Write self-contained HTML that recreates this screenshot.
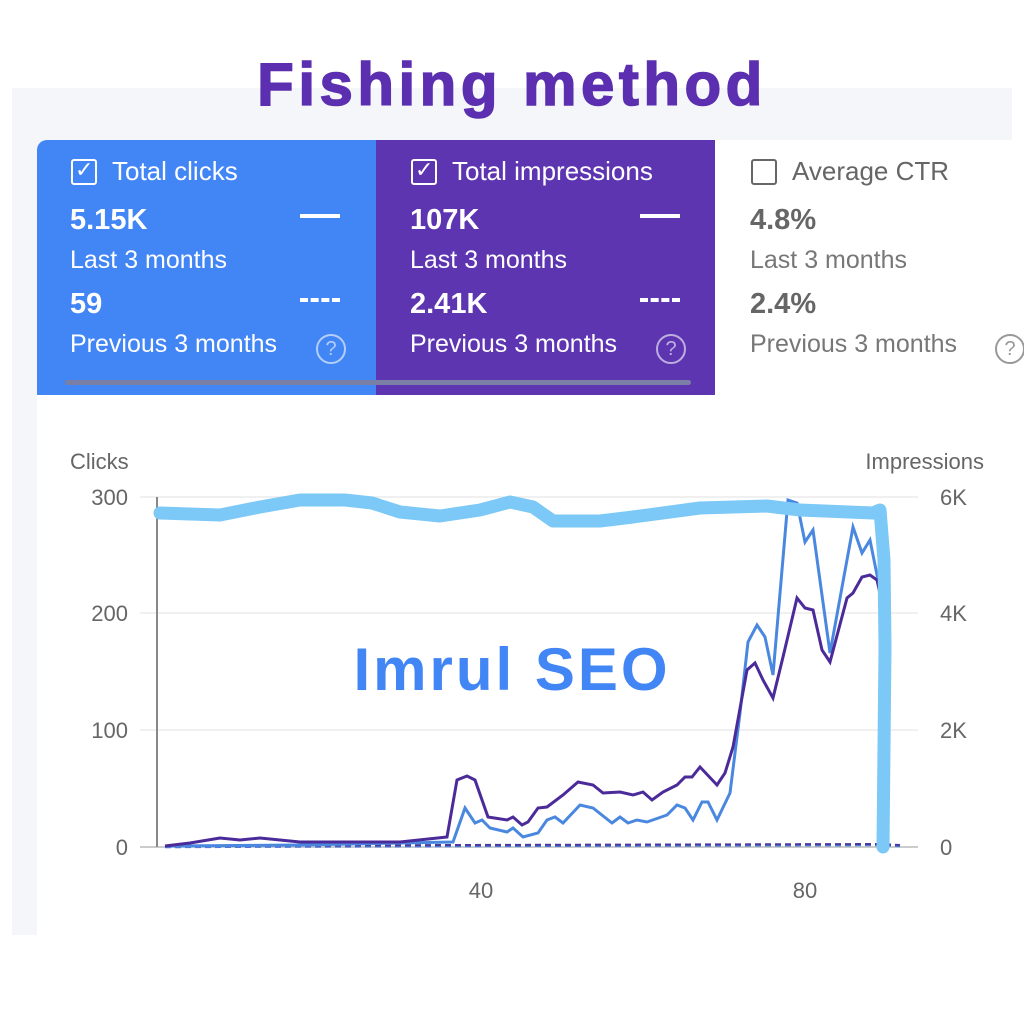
<!DOCTYPE html>
<html><head><meta charset="utf-8"><style>
body{margin:0;width:1024px;height:1024px;background:#fff;position:relative;overflow:hidden;font-family:"Liberation Sans",sans-serif}
.abs{position:absolute}
.panel{left:12px;top:88px;width:1000px;height:847px;background:#f4f6fa}
.chart{left:37px;top:395px;width:975px;height:540px;background:#fff}
.v{font-size:29px;font-weight:bold;position:absolute;white-space:nowrap}
.s{font-size:25px;position:absolute;white-space:nowrap}
.cb{position:absolute;width:22px;height:22px;border:2.5px solid #fff;border-radius:3px}
.q{position:absolute;width:26px;height:26px;border:2.5px solid rgba(255,255,255,.6);border-radius:50%;font-size:20px;text-align:center;line-height:27px;color:rgba(255,255,255,.6)}
</style></head><body>
<div class="abs panel"></div>
<div class="abs" style="left:37px;top:140px;width:339px;height:255px;background:#4285f4;border-radius:10px 0 0 0"></div>
<div class="abs" style="left:376px;top:140px;width:339px;height:255px;background:#5e35b1"></div>
<div class="abs" style="left:715px;top:140px;width:297px;height:255px;background:#fff"></div>
<div class="abs" style="left:65px;top:380px;width:626px;height:5px;background:#7a7fa6;border-radius:3px"></div>
<div class="abs chart"></div>

<div class="abs" style="left:0;top:50px;width:1024px;text-align:center;font-size:60px;font-weight:bold;color:#5b2fb0;letter-spacing:4.5px;-webkit-text-stroke:1.5px #5b2fb0">Fishing method</div>

<!-- card 1 -->
<div class="cb" style="left:71px;top:159px"></div><div class="abs" style="left:75px;top:157px;color:#fff;font-size:22px">✓</div>
<div class="abs" style="left:112px;top:156px;color:#fff;font-size:26px">Total clicks</div>
<div class="v" style="left:70px;top:204px;color:#fff">5.15K</div>
<div class="abs" style="left:300px;top:214px;width:40px;height:4px;background:#fff"></div>
<div class="s" style="left:70px;top:246px;color:#fff">Last 3 months</div>
<div class="v" style="left:70px;top:288px;color:#fff">59</div>
<div class="abs" style="left:300px;top:298px;width:40px;height:0;border-top:4px dashed #fff"></div>
<div class="s" style="left:70px;top:330px;color:#fff">Previous 3 months</div>
<div class="q" style="left:316px;top:334px">?</div>
<!-- card 2 -->
<div class="cb" style="left:411px;top:159px"></div><div class="abs" style="left:415px;top:157px;color:#fff;font-size:22px">✓</div>
<div class="abs" style="left:452px;top:156px;color:#fff;font-size:26px">Total impressions</div>
<div class="v" style="left:410px;top:204px;color:#fff">107K</div>
<div class="abs" style="left:640px;top:214px;width:40px;height:4px;background:#fff"></div>
<div class="s" style="left:410px;top:246px;color:#fff">Last 3 months</div>
<div class="v" style="left:410px;top:288px;color:#fff">2.41K</div>
<div class="abs" style="left:640px;top:298px;width:40px;height:0;border-top:4px dashed #fff"></div>
<div class="s" style="left:410px;top:330px;color:#fff">Previous 3 months</div>
<div class="q" style="left:656px;top:334px">?</div>
<!-- card 3 -->
<div class="cb" style="left:751px;top:159px;border-color:#666"></div>
<div class="abs" style="left:792px;top:156px;color:#666;font-size:26px">Average CTR</div>
<div class="v" style="left:750px;top:204px;color:#666">4.8%</div>
<div class="s" style="left:750px;top:246px;color:#777">Last 3 months</div>
<div class="v" style="left:750px;top:288px;color:#666">2.4%</div>
<div class="s" style="left:750px;top:330px;color:#777">Previous 3 months</div>
<div class="q" style="left:995px;top:334px;border-color:#999;color:#999">?</div>

<svg class="abs" style="left:0;top:0" width="1024" height="1024">
<g font-family="Liberation Sans" font-size="22" fill="#666">
<text x="70" y="469">Clicks</text>
<text x="984" y="469" text-anchor="end">Impressions</text>
<text x="128" y="505" text-anchor="end">300</text>
<text x="128" y="621" text-anchor="end">200</text>
<text x="128" y="738" text-anchor="end">100</text>
<text x="128" y="855" text-anchor="end">0</text>
<text x="940" y="505">6K</text>
<text x="940" y="621">4K</text>
<text x="940" y="738">2K</text>
<text x="940" y="855">0</text>
<text x="481" y="898" text-anchor="middle">40</text>
<text x="805" y="898" text-anchor="middle">80</text>
</g>
<g stroke="#ececec" stroke-width="1.5">
<line x1="140" y1="497" x2="918" y2="497"/><line x1="140" y1="613" x2="918" y2="613"/><line x1="140" y1="730" x2="918" y2="730"/>
</g>
<line x1="140" y1="847" x2="918" y2="847" stroke="#bbb" stroke-width="1.5"/>
<line x1="157" y1="497" x2="157" y2="847" stroke="#888" stroke-width="2"/>
<text x="512" y="690" text-anchor="middle" font-family="Liberation Sans" font-weight="bold" font-size="60" fill="#4285f4" letter-spacing="3">Imrul SEO</text>
<polyline fill="none" stroke="#4a77d9" stroke-width="2.5" stroke-dasharray="6 4" points="165,847 450,846 880,845 900,846"/>
<polyline fill="none" stroke="#4a3aa0" stroke-width="2" stroke-dasharray="6 4" points="165,846 450,845 880,844 900,845"/>
<polyline fill="none" stroke="#4a88e0" stroke-width="3" points="165,846 300,845 453,842 465,808 475,823 482,820 490,828 507,832 513,828 523,837 538,833 547,820 555,817 563,823 580,805 593,808 612,823 620,817 628,823 637,820 647,822 667,815 677,805 685,808 693,820 702,802 708,802 717,820 730,793 740,713 748,642 757,625 765,637 773,675 788,500 797,503 805,542 813,530 830,653 853,527 862,553 870,540 880,590 887,623"/>
<polyline fill="none" stroke="#4b2a99" stroke-width="3" points="165,846 190,843 220,838 240,840 260,838 300,842 400,842 447,837 457,780 467,776 475,780 488,817 507,820 513,817 522,825 528,822 538,808 547,807 563,795 578,782 593,785 603,793 620,792 633,795 643,792 652,800 663,792 677,785 685,777 692,777 700,767 717,785 725,773 733,747 747,670 755,663 763,680 773,698 783,657 797,598 805,608 813,610 822,650 830,662 847,598 853,593 862,577 870,575 877,580 887,625"/>
<polyline fill="none" stroke="#7cc8f6" stroke-width="13" stroke-linejoin="round" stroke-linecap="round" points="160,513 220,515 260,507 300,500 345,500 372,503 400,512 440,516 480,510 510,502 533,507 553,521 600,521 633,517 700,508 767,506 800,510 873,513 880,510 884,560 885,647 883,847"/>
</svg>
</body></html>
